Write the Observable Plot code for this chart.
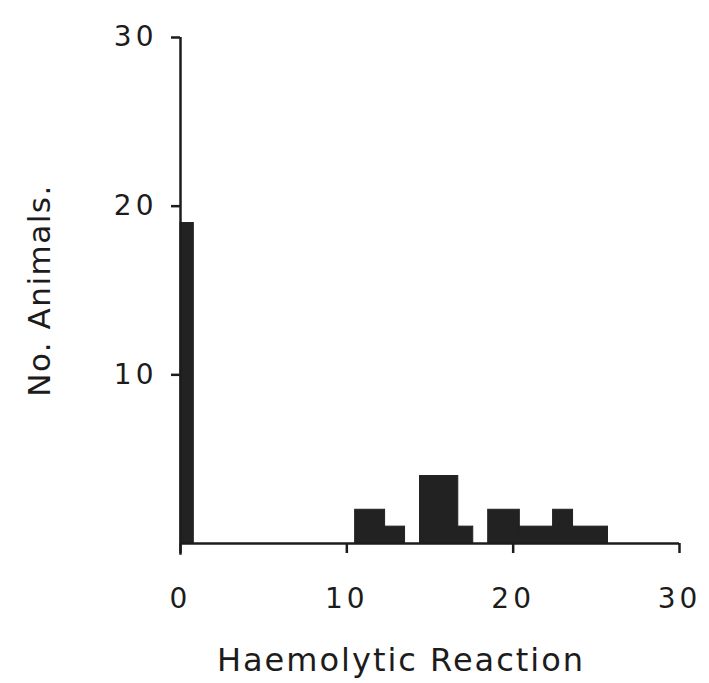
<!DOCTYPE html>
<html>
<head>
<meta charset="utf-8">
<script src="https://cdn.jsdelivr.net/npm/d3@7"></script>
<script src="https://cdn.jsdelivr.net/npm/@observablehq/plot@0.6"></script>
<style>
  html, body { margin: 0; padding: 0; background: #ffffff; }
  #chart { width: 709px; height: 683px; }
  g[aria-label="x-axis tick label"] text,
  g[aria-label="y-axis tick label"] text { letter-spacing: 4px; }
  g.xtitle text { letter-spacing: 2px; }
  g.ytitle text { letter-spacing: 1.5px; }
</style>
</head>
<body>
<div id="chart"></div>
<script>
// Histogram bins (class start, class end, number of animals)
const binStart = [0, 10.5, 12.3, 14.4, 16.7, 18.5, 20.4, 22.4, 23.6];
const binEnd   = [0.8, 12.3, 13.5, 16.7, 17.6, 20.4, 22.4, 23.6, 25.7];
const counts   = [19, 2, 1, 4, 1, 2, 1, 2, 1];

const xTicks = [0, 10, 20, 30];
const yTicks = [10, 20, 30];
const xTitle = "Haemolytic Reaction";
const yTitle = "No. Animals.";

const bins = binStart.map((s, i) => ({x1: s, x2: binEnd[i], n: counts[i]}));

const font = "'DejaVu Sans', sans-serif";
const ink = "#1c1c1c";

const chart = Plot.plot({
  width: 709,
  height: 683,
  marginLeft: 180,
  marginRight: 30,
  marginTop: 37,
  marginBottom: 140,
  style: {fontFamily: font, background: "#ffffff", color: ink},
  x: {domain: [0, 30]},
  y: {domain: [0, 30]},
  marks: [
    Plot.rectY(bins, {x1: "x1", x2: "x2", y: "n", fill: "#222222", stroke: "#222222", strokeWidth: 1}),
    Plot.ruleY([0], {x1: 0, x2: 30, stroke: ink, strokeWidth: 2.5}),
    Plot.ruleX([0], {y1: -0.7, y2: 30, stroke: ink, strokeWidth: 2.5}),
    Plot.axisX({ticks: xTicks, tickSize: 10, tickPadding: 35, strokeWidth: 2.5,
      fontSize: 28, label: null, tickFormat: d => String(d), fill: ink}),
    Plot.axisY({ticks: yTicks, tickSize: 9, tickPadding: 14, strokeWidth: 2.5,
      fontSize: 28, label: null, tickFormat: d => String(d), fill: ink}),
    Plot.text([xTitle], {frameAnchor: "bottom", dy: 117, dx: -29, fontSize: 32, fill: ink,
      lineAnchor: "middle", textAnchor: "middle", className: "xtitle"}),
    Plot.text([yTitle], {frameAnchor: "left", rotate: -90, dx: -140, fontSize: 31, fill: ink,
      lineAnchor: "middle", textAnchor: "middle", className: "ytitle"})
  ]
});

document.getElementById("chart").appendChild(chart);
</script>
</body>
</html>
